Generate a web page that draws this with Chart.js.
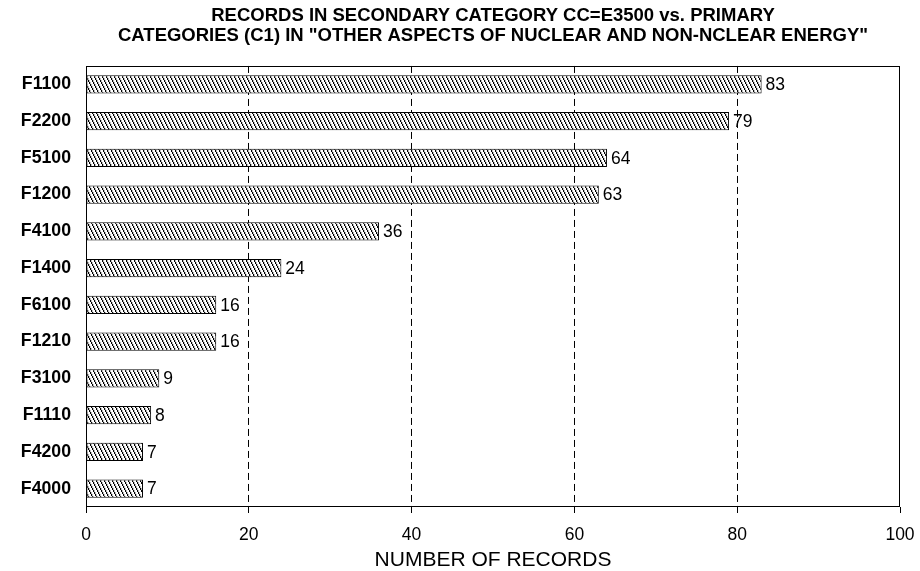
<!DOCTYPE html>
<html>
<head>
<meta charset="utf-8">
<script src="https://cdn.jsdelivr.net/npm/chart.js@4/dist/chart.umd.min.js"></script>
<style>
  html, body { margin: 0; padding: 0; background: #fff; }
  #wrap { width: 920px; height: 571px; }
</style>
</head>
<body>
<div id="wrap"><canvas id="c" width="920" height="571"></canvas></div>
<script>
// Primary categories (C1) and their record counts
const categories = ['F1100', 'F2200', 'F5100', 'F1200', 'F4100', 'F1400', 'F6100', 'F1210', 'F3100', 'F1110', 'F4200', 'F4000'];
const records = [83, 79, 64, 63, 36, 24, 16, 16, 9, 8, 7, 7];
const xTicks = [0, 20, 40, 60, 80, 100];
const titleLines = [
  'RECORDS IN SECONDARY CATEGORY CC=E3500 vs. PRIMARY',
  'CATEGORIES (C1) IN "OTHER ASPECTS OF NUCLEAR AND NON-NCLEAR ENERGY"'
];
const axisTitle = 'NUMBER OF RECORDS';

const FONT = "'Liberation Sans', Arial, Helvetica, sans-serif";

// Diagonal hatch fill (strokes running top-left to bottom-right)
function makeHatch() {
  const w = 4, h = 8;
  const t = document.createElement('canvas');
  t.width = w; t.height = h;
  const g = t.getContext('2d');
  const img = g.createImageData(w, h);
  for (let y = 0; y < h; y++) {
    const sx = Math.floor(y / 2);
    for (let x = 0; x < w; x++) {
      const i = (y * w + x) * 4;
      let v = 255;
      if (x === sx) v = 0;
      else if (x === (sx + 1) % w) v = 190;
      img.data[i] = v; img.data[i + 1] = v; img.data[i + 2] = v; img.data[i + 3] = 255;
    }
  }
  g.putImageData(img, 0, 0);
  return g.createPattern(t, 'repeat');
}

// Plot frame around the chart area
const framePlugin = {
  id: 'frame',
  afterDatasetsDraw(chart) {
    const { ctx, chartArea: a } = chart;
    ctx.save();
    ctx.strokeStyle = '#000';
    ctx.lineWidth = 1;
    const l = Math.round(a.left) + 0.5, r = Math.round(a.right) - 0.5;
    const t = Math.round(a.top) + 0.5, b = Math.round(a.bottom) - 0.5;
    ctx.strokeRect(l, t, r - l, b - t);
    ctx.restore();
  }
};

// Value labels at the end of each bar
const valueLabels = {
  id: 'valueLabels',
  afterDatasetsDraw(chart) {
    const { ctx } = chart;
    const meta = chart.getDatasetMeta(0);
    ctx.save();
    ctx.font = '17.5px ' + FONT;
    ctx.fillStyle = '#000';
    ctx.textAlign = 'left';
    ctx.textBaseline = 'middle';
    meta.data.forEach((bar, i) => {
      ctx.fillText(String(records[i]), bar.x + 4, bar.y + 1);
    });
    ctx.restore();
  }
};

new Chart(document.getElementById('c'), {
  type: 'bar',
  data: {
    labels: categories,
    datasets: [{
      data: records,
      backgroundColor: makeHatch(),
      borderColor: '#000',
      borderWidth: 1,
      borderSkipped: false,
      barPercentage: 0.5,
      categoryPercentage: 1.0
    }]
  },
  options: {
    indexAxis: 'y',
    responsive: false,
    animation: false,
    layout: { padding: { left: 16, right: 20, top: 0, bottom: 0 } },
    plugins: {
      legend: { display: false },
      tooltip: { enabled: false },
      title: {
        display: true,
        text: titleLines,
        fullSize: false,
        color: '#000',
        font: { family: FONT, size: 18.5, weight: 'bold', lineHeight: 1.08 },
        padding: { top: 6, bottom: 20 }
      }
    },
    scales: {
      x: {
        type: 'linear',
        min: 0,
        max: 100,
        afterBuildTicks: (s) => { s.ticks = xTicks.map(v => ({ value: v })); },
        afterFit: (s) => { s.height = 64; s.paddingLeft = 0; s.paddingRight = 0; },
        ticks: {
          color: '#000',
          font: { family: FONT, size: 17.5 },
          padding: 12,
          maxRotation: 0
        },
        grid: {
          color: (c) => (c.tick && (c.tick.value === 0 || c.tick.value === 100)) ? 'rgba(0,0,0,0)' : '#000',
          lineWidth: 1,
          tickColor: '#000',
          tickLength: 6,
          drawTicks: true
        },
        border: { display: false, dash: [7, 4] },
        title: {
          display: true,
          text: axisTitle,
          color: '#000',
          font: { family: FONT, size: 21, lineHeight: 1.0 },
          padding: { top: 0, bottom: 0 }
        }
      },
      y: {
        afterFit: (s) => { s.width = 70; },
        ticks: {
          color: '#000',
          font: { family: FONT, size: 17.7, weight: 'bold' },
          padding: 15
        },
        grid: { display: false, drawTicks: false },
        border: { display: false }
      }
    }
  },
  plugins: [framePlugin, valueLabels]
});
</script>
</body>
</html>
